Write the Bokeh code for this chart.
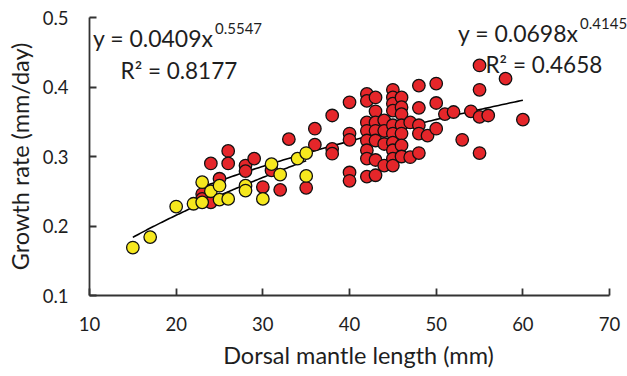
from bokeh.plotting import figure
from bokeh.models import Label, FixedTicker, PrintfTickFormatter, Range1d
from bokeh.embed import file_html
from bokeh.resources import INLINE
import numpy as np

# ---- data ----
yellow_dml = [15, 17, 20, 22, 23, 23, 24, 25, 25, 26, 28, 28, 30, 31, 32, 34, 35, 35]
yellow_gr = [0.169, 0.184, 0.228, 0.232, 0.234, 0.263, 0.250, 0.258, 0.238, 0.239,
             0.258, 0.251, 0.239, 0.289, 0.274, 0.297, 0.305, 0.272]

red_dml = [23, 23, 24, 24, 25, 26, 26, 28, 28, 29, 30, 31, 32, 33, 35, 36, 36, 38, 38, 38,
           40, 40, 40, 40, 40,
           42, 42, 42, 42, 42, 42, 42, 42,
           43, 43, 43, 43, 43, 43, 43,
           44, 44, 44, 44,
           45, 45, 45, 45, 45, 45, 45, 45, 45, 45,
           46, 46, 46, 46, 46, 46, 46,
           47, 47,
           48, 48, 48, 48, 48,
           49,
           50, 50, 50,
           51, 52, 53, 54, 55, 55, 55, 55, 56, 58, 60]
red_gr = [0.246, 0.239, 0.234, 0.290, 0.268, 0.308, 0.290, 0.287, 0.279, 0.297, 0.256, 0.280,
          0.252, 0.325, 0.255, 0.340, 0.317, 0.359, 0.311, 0.304,
          0.378, 0.333, 0.324, 0.277, 0.265,
          0.390, 0.380, 0.349, 0.337, 0.323, 0.309, 0.297, 0.271,
          0.385, 0.365, 0.349, 0.337, 0.323, 0.295, 0.273,
          0.352, 0.337, 0.318, 0.287,
          0.396, 0.385, 0.376, 0.366, 0.345, 0.333, 0.320, 0.309, 0.297, 0.287,
          0.385, 0.371, 0.361, 0.345, 0.333, 0.316, 0.300,
          0.349, 0.299,
          0.402, 0.370, 0.345, 0.333, 0.305,
          0.330,
          0.405, 0.377, 0.340,
          0.361, 0.364, 0.324, 0.365, 0.431, 0.396, 0.357, 0.305, 0.359, 0.412, 0.353]

# power-law fits shown on the chart: y = a * x^b
yellow_fit = (0.0409, 0.5547)
yellow_r2 = 0.8177
red_fit = (0.0698, 0.4145)
red_r2 = 0.4658

x_ticks = [10, 20, 30, 40, 50, 60, 70]
y_ticks = [0.1, 0.2, 0.3, 0.4, 0.5]

FONT = "Lato"
TXT = "#1e1e1e"

p = figure(width=627, height=376, output_backend="svg", toolbar_location=None,
           x_range=Range1d(10, 72.07), y_range=Range1d(0.1, 0.5),
           min_border_left=89, min_border_right=0, min_border_top=17, min_border_bottom=81)
p.outline_line_color = None
p.grid.visible = False
p.background_fill_color = "white"
p.border_fill_color = "white"

for ax in (p.xaxis[0], p.yaxis[0]):
    ax.axis_line_color = "#333333"
    ax.axis_line_width = 1.8
    ax.major_tick_line_color = "#333333"
    ax.major_tick_line_width = 1.8
    ax.major_tick_in = 7
    ax.major_tick_out = 0
    ax.minor_tick_line_color = None
    ax.major_label_text_font = FONT
    ax.major_label_text_font_size = "18.5px"
    ax.major_label_text_color = TXT
    ax.axis_label_text_font = FONT
    ax.axis_label_text_font_size = "23.5px"
    ax.axis_label_text_font_style = "normal"
    ax.axis_label_text_color = TXT

p.xaxis.bounds = (10, 70)
p.xaxis.ticker = FixedTicker(ticks=x_ticks)
p.yaxis.ticker = FixedTicker(ticks=y_ticks)
p.yaxis.formatter = PrintfTickFormatter(format="%.1f")
p.xaxis.axis_label = "Dorsal mantle length (mm)"
p.yaxis.axis_label = "Growth rate (mm/day)"
p.xaxis.major_label_standoff = 21
p.xaxis.axis_label_standoff = 7
p.yaxis.major_label_standoff = 21
p.yaxis.axis_label_standoff = 6

# trend lines
xr = np.linspace(min(red_dml), max(red_dml), 120)
p.line(xr, red_fit[0] * xr ** red_fit[1], line_color="black", line_width=1.6)
xy = np.linspace(min(yellow_dml), max(yellow_dml), 120)
p.line(xy, yellow_fit[0] * xy ** yellow_fit[1], line_color="black", line_width=1.6)

p.scatter(red_dml, red_gr, size=12.5, fill_color="#e5262a", line_color="#111111", line_width=1.3)
p.scatter(yellow_dml, yellow_gr, size=12.5, fill_color="#f6e81e", line_color="#111111", line_width=1.3)

def lab(x, y, t, size, align="left"):
    p.add_layout(Label(x=x, y=y, text=t, text_font=FONT, text_font_size=size,
                       text_color=TXT, text_align=align, text_baseline="alphabetic"))

lab(24.31, 0.4712, "y = %.4fx" % yellow_fit[0], "23px", "right")
lab(24.48, 0.4842, "%.4f" % yellow_fit[1], "15px")
lab(13.58, 0.4237, "R² = %.4f" % yellow_r2, "22.5px")
lab(66.42, 0.4770, "y = %.4fx" % red_fit[0], "23px", "right")
lab(66.60, 0.4914, "%.4f" % red_fit[1], "15px")
lab(55.69, 0.4324, "R² = %.4f" % red_r2, "22.5px")

open("out.html", "w").write(file_html(p, INLINE))
